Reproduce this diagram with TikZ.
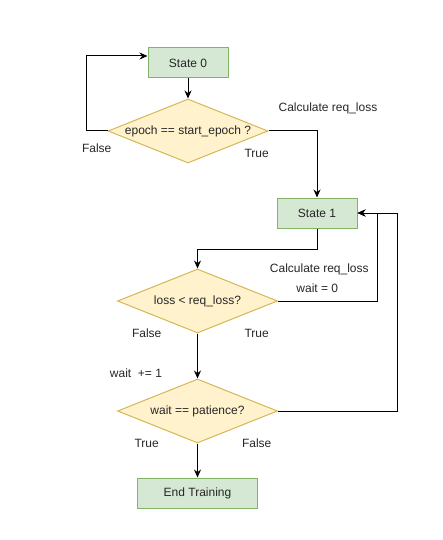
\documentclass[tikz,border=0pt]{standalone}
\usepackage{fontspec}
\setmainfont{Liberation Sans}
\usetikzlibrary{shapes.geometric,arrows.meta}
\definecolor{stepfill}{HTML}{D5E8D4}
\definecolor{stepline}{HTML}{82B366}
\definecolor{testfill}{HTML}{FFF2CC}
\definecolor{testline}{HTML}{D6B656}
\begin{document}
\begin{tikzpicture}[x=1pt,y=-1pt,
  every node/.style={font=\fontsize{12}{14}\selectfont, text=black!85},
  stepbox/.style={draw=stepline, fill=stepfill, line width=1pt, minimum height=30pt, inner sep=0pt},
  testbox/.style={diamond, draw=testline, fill=testfill, line width=1pt, aspect=2.5, inner sep=0pt, minimum width=160pt, minimum height=64pt},
  flow/.style={line width=1pt, -{Stealth[length=8pt,width=7pt]}},
  tag/.style={inner sep=0pt}]
\useasboundingbox (0,0) rectangle (443,540);
% process steps
\node[stepbox, minimum width=80pt] (s0) at (188,63) {State 0};
\node[stepbox, minimum width=80pt] (s1) at (317,213) {State 1};
\node[stepbox, minimum width=120pt] (end) at (197.5,493) {End Training};
% decisions
\node[testbox] (d1) at (188,131) {epoch == start\_epoch ?};
\node[testbox] (d2) at (197.5,301) {loss {\textless} req\_loss?};
\node[testbox] (d3) at (197.5,411) {wait == patience?};
% routing columns on the right
\coordinate (c2) at (377,0);
\coordinate (c3) at (397,0);
% connectors
\draw[flow] (s0) -- (d1);
\draw[flow] (d1.west) -- ++(-21,0) |- ([yshift=7pt]s0.west);
\draw[flow] (d1.east) -| (s1.north);
\draw[flow] (s1.south) -- ++(0,21) -| (d2.north);
\draw[flow] (d2.east) -| (c2 |- s1.east) -- (s1.east);
\draw[flow] (d2.south) -- (d3.north);
\draw[flow] (d3.east) -| (c3 |- s1.east) -- (s1.east);
\draw[flow] (d3.south) -- (end.north);
% edge labels
\node[tag] (l1) at (328,108) {Calculate req\_loss};
\node[tag] (l2) at (96.7,148) {False};
\node[tag] (l3) at (256.7,153) {True};
\node[tag] (l4) at (319.3,269) {Calculate req\_loss};
\node[tag] (l5) at (317.3,288) {wait = 0};
\node[tag] (l6) at (146.7,333) {False};
\node[tag] (l7) at (256.7,333) {True};
\node[tag] (l8) at (136,373) {wait\ \ += 1};
\node[tag] (l9) at (146.7,443) {True};
\node[tag] (l10) at (256.7,443) {False};
\end{tikzpicture}
\end{document}
